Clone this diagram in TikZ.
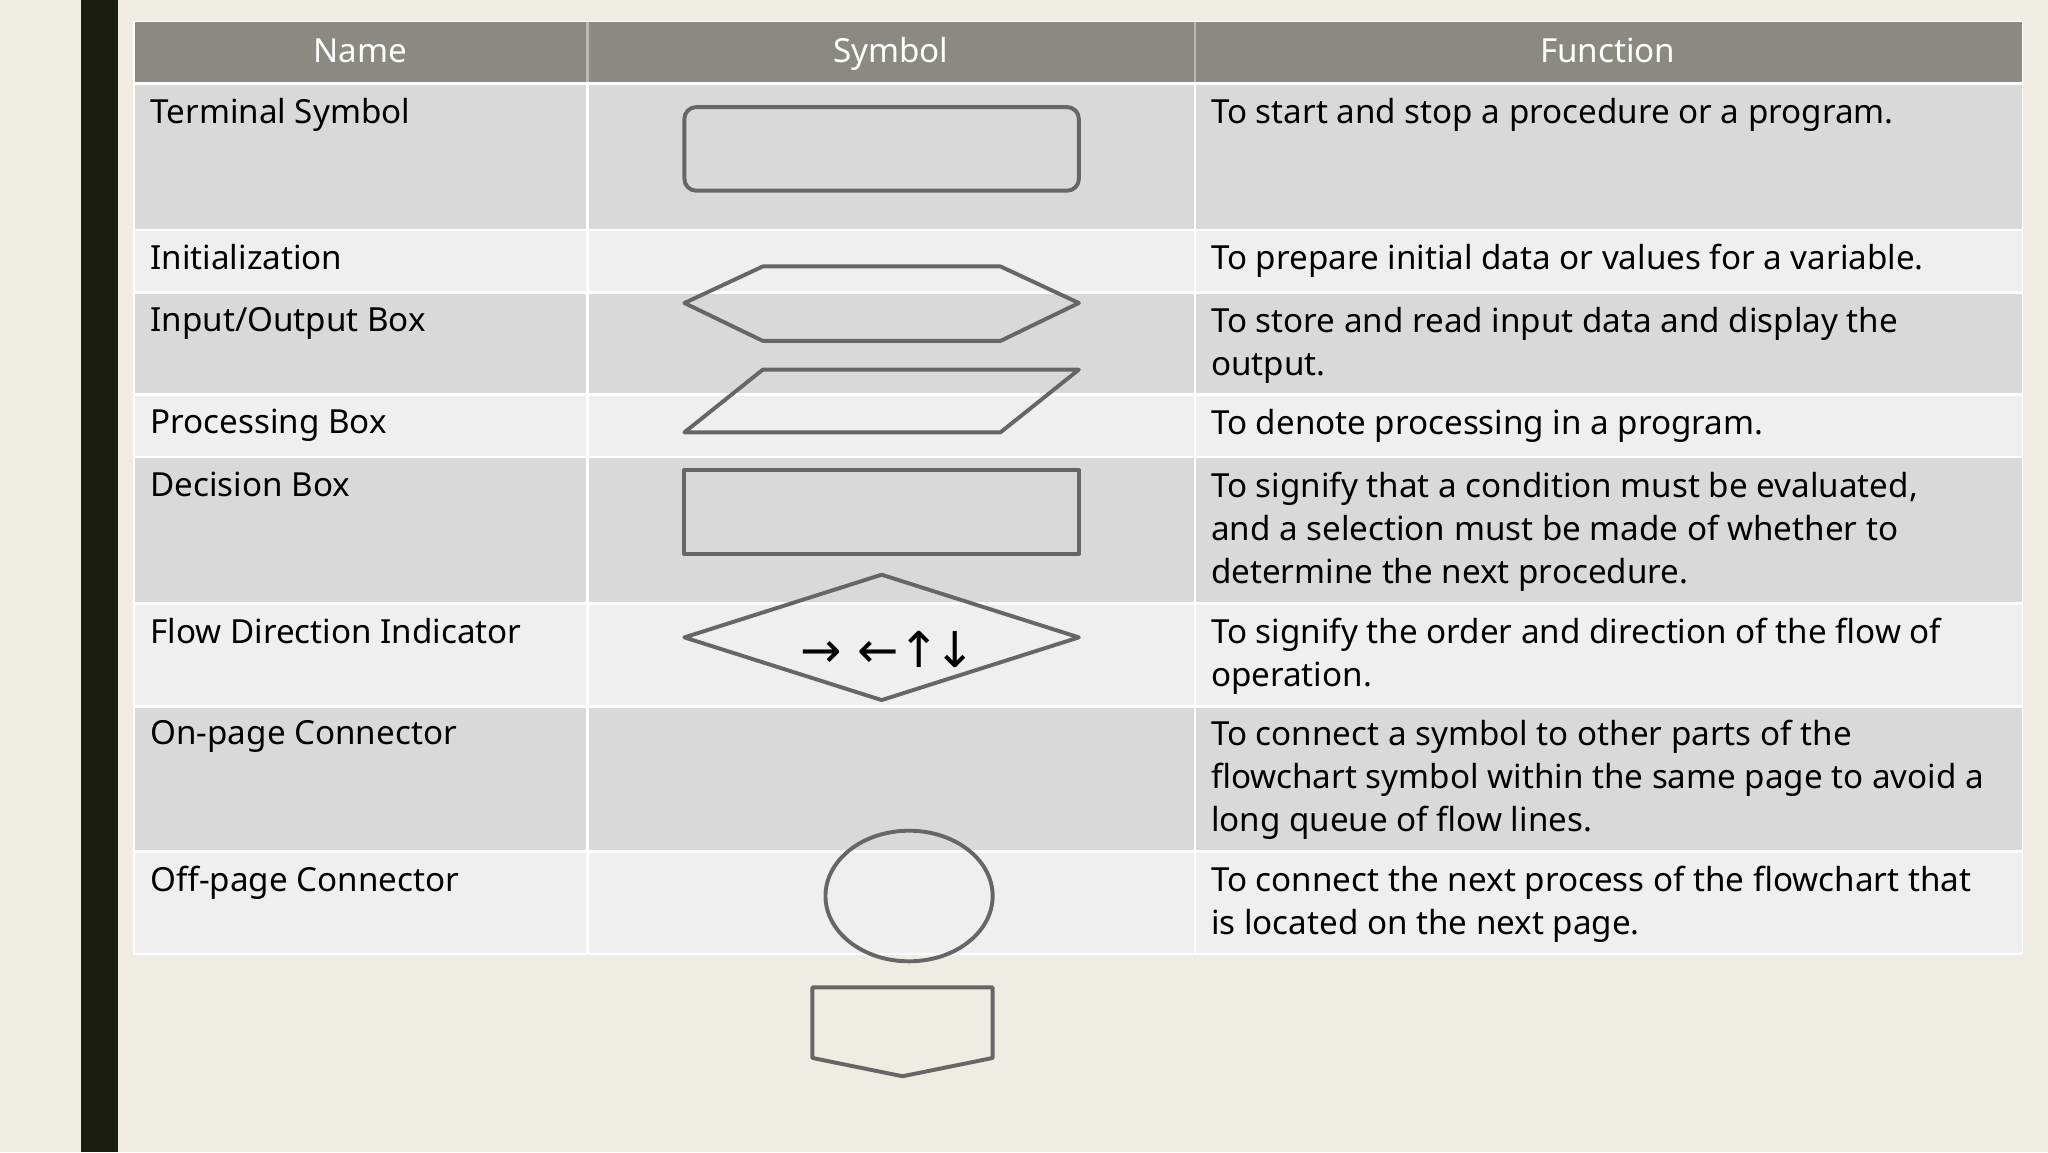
\documentclass[tikz,border=0pt]{standalone}
\usepackage{fontspec}
\setmainfont{Noto Sans}
\newfontfamily\symf{DejaVu Sans}
\definecolor{bg}{HTML}{EFECE4}
\definecolor{bar}{HTML}{1C1D12}
\definecolor{hdr}{HTML}{8A8A83}
\definecolor{rowd}{HTML}{D9D9D9}
\definecolor{rowl}{HTML}{EFEFEF}
\definecolor{stk}{HTML}{666666}
\begin{document}
\begin{tikzpicture}[x=1bp,y=-1bp,
  cell/.style={anchor=north west,inner sep=0pt,font=\fontsize{25.5}{33}\selectfont,align=left,text=black},
  hd/.style={text=white,font=\fontsize{25.5}{30}\selectfont,text height=18bp,text depth=5bp,inner sep=0pt},
  shp/.style={draw=stk,line width=3bp,line join=round}]
\useasboundingbox (0,0) rectangle (1568,882);
\fill[bg] (0,0) rectangle (1568,882);
\fill[bar] (62,0) rectangle (90,882);
\fill[white] (102,16) rectangle (1549,731);
% rows
\fill[hdr] (103,17) rectangle (1548,63);
\foreach \a/\b/\c in {65/175/rowd,177/223/rowl,225/301/rowd,303/349/rowl,351/461/rowd,463/540/rowl,542/651/rowd,653/730/rowl}{
  \fill[\c] (103,\a) rectangle (449,\b);
  \fill[\c] (451,\a) rectangle (914,\b);
  \fill[\c] (916,\a) rectangle (1548,\b);
}
\fill[hdr!60!white] (449,17) rectangle (451,63);
\fill[hdr!60!white] (914,17) rectangle (916,63);
\node[hd] (h1) at (276,41) {Name};
\node[hd] (h2) at (682,41) {Symbol};
\node[hd] (h3) at (1231,41) {Function};
% names
\foreach \y/\t [count=\i] in {75/{Terminal Symbol},187/{Initialization},235/{Input/Output Box},313/{Processing Box},361/{Decision Box},473/{Flow Direction Indicator},551/{On-page Connector},663/{Off-page Connector}}
  \node[cell] (n\i) at (115,\y) {\t};
% functions
\node[cell] (f1) at (927,75) {To start and stop a procedure or a program.};
\node[cell] (f2) at (927,187) {To prepare initial data or values for a variable.};
\node[cell] (f3) at (927,235) {To store and read input data and display the\\output.};
\node[cell] (f4) at (927,313) {To denote processing in a program.};
\node[cell] (f5) at (927,361) {To signify that a condition must be evaluated,\\and a selection must be made of whether to\\determine the next procedure.};
\node[cell] (f6) at (927,473) {To signify the order and direction of the flow of\\operation.};
\node[cell] (f7) at (927,551) {To connect a symbol to other parts of the\\flowchart symbol within the same page to avoid a\\long queue of flow lines.};
\node[cell] (f8) at (927,663) {To connect the next process of the flowchart that\\is located on the next page.};
% shapes
\draw[shp,rounded corners=9bp] (524,82) rectangle (826,146);
\draw[shp] (524,232) -- (584,204) -- (766,204) -- (826,232) -- (766,261) -- (584,261) -- cycle;
\draw[shp] (524,331) -- (584,283) -- (826,283) -- (766,331) -- cycle;
\draw[shp] (524,360) rectangle (826,424);
\draw[shp] (524,488) -- (675,440) -- (826,488) -- (675,536) -- cycle;
\node[inner sep=0pt,font=\symf\fontsize{38}{38}\selectfont] (arr) at (680,497) {→ ←↑\kern-4bp↓};
\draw[shp] (696,686) ellipse [x radius=64, y radius=50];
\draw[shp] (622,756) -- (760,756) -- (760,810) -- (691,824) -- (622,810) -- cycle;
\end{tikzpicture}
\end{document}
